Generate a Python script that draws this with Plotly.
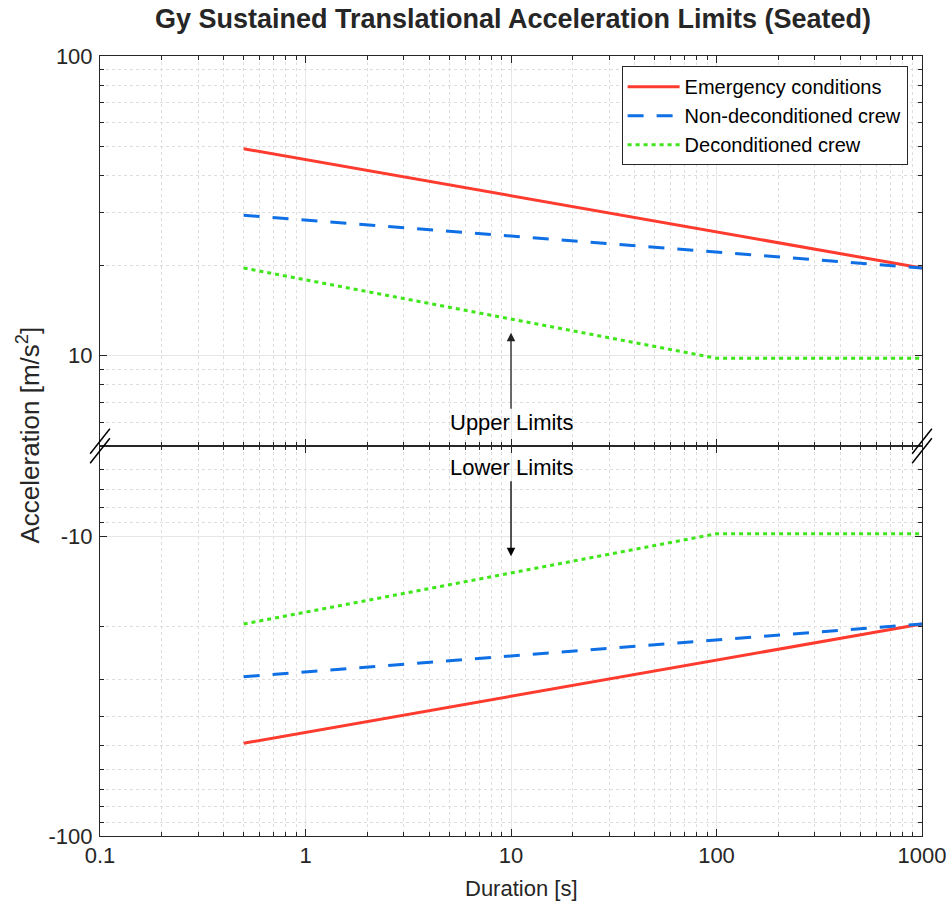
import plotly.graph_objects as go
from plotly.subplots import make_subplots

# ---------------- data ----------------
G = 9.81
emergency_dur = [0.5, 1000]
emergency_up = [5 * G, 2 * G]
nondecond_dur = [0.5, 1000]
nondecond_up = [3 * G, 2 * G]
decond_dur = [0.5, 100, 1000]
decond_up = [2 * G, 1 * G, 1 * G]

emergency_low = [-5 * G, -2 * G]
nondecond_low = [-3 * G, -2 * G]
decond_low = [-2 * G, -1 * G, -1 * G]

x_major = [0.1, 1, 10, 100, 1000]
x_major_text = ["0.1", "1", "10", "100", "1000"]
x_minor = [m * d for d in [0.1, 1, 10, 100] for m in range(2, 10)]
y_top_major = [10, 100]
y_top_text = ["10", "100"]
y_bot_major = [10, 100]
y_bot_text = ["-10", "-100"]
y_minor = [m * d for d in [1, 10] for m in range(2, 10)]

names = ["Emergency conditions", "Non-deconditioned crew", "Deconditioned crew"]
colors = ["#ff3b2f", "#0f70e6", "#3ee61a"]
dashes = ["solid", "16px,13px", "4px,4px"]

FONT = "Liberation Sans, Arial, sans-serif"
TXT = "#262626"

fig = make_subplots(rows=2, cols=1, shared_xaxes=False, vertical_spacing=0)

series_top = [(emergency_dur, emergency_up), (nondecond_dur, nondecond_up), (decond_dur, decond_up)]
series_bot = [(emergency_dur, emergency_low), (nondecond_dur, nondecond_low), (decond_dur, decond_low)]

for i, (xs, ys) in enumerate(series_top):
    fig.add_trace(go.Scatter(x=xs, y=ys, mode="lines", name=names[i],
                             line=dict(color=colors[i], width=3, dash=dashes[i]),
                             showlegend=True), row=1, col=1)
for i, (xs, ys) in enumerate(series_bot):
    fig.add_trace(go.Scatter(x=xs, y=[-v for v in ys], mode="lines", name=names[i],
                             line=dict(color=colors[i], width=3, dash=dashes[i]),
                             showlegend=False), row=2, col=1)

axis_common = dict(
    type="log", showline=True, linecolor="#262626", linewidth=1, mirror="ticks",
    ticks="inside", ticklen=7, tickcolor="#262626", automargin=False,
    showgrid=True, gridcolor="#e6e6e6", gridwidth=1, zeroline=False,
    tickfont=dict(family=FONT, size=22, color=TXT),
)
minor_common = dict(ticks="inside", ticklen=4, tickcolor="#262626",
                    showgrid=True, gridcolor="#dedede", griddash="dot", gridwidth=1)

for r in (1, 2):
    fig.update_xaxes(axis_common, range=[-1, 3], tickmode="array",
                     tickvals=x_major, ticktext=x_major_text,
                     showticklabels=(r == 2),
                     minor=dict(minor_common, tickmode="array", tickvals=x_minor),
                     row=r, col=1)

fig.update_yaxes(axis_common, range=[0.69897, 2], tickmode="array",
                 tickvals=y_top_major, ticktext=y_top_text, ticklabelstandoff=2,
                 minor=dict(minor_common, tickmode="array", tickvals=y_minor),
                 row=1, col=1)
fig.update_yaxes(axis_common, range=[2, 0.69897], tickmode="array",
                 tickvals=y_bot_major, ticktext=y_bot_text, ticklabelstandoff=2,
                 minor=dict(minor_common, tickmode="array", tickvals=y_minor),
                 row=2, col=1)

fig.update_layout(
    width=950, height=911,
    margin=dict(l=100, r=28, t=56, b=75),
    plot_bgcolor="white", paper_bgcolor="white",
    font=dict(family=FONT, color=TXT),
    title=dict(text="<b>Gy Sustained Translational Acceleration Limits (Seated)</b>",
               x=513 / 950, xanchor="center",
               y=1 - 19 / 911, yanchor="middle",
               font=dict(family=FONT, size=27, color=TXT)),
    legend=dict(x=0.9825, xanchor="right", y=0.987, yanchor="top",
                bgcolor="white", bordercolor="#262626", borderwidth=1,
                font=dict(family=FONT, size=20, color="#000000"),
                itemwidth=52, tracegroupgap=0),
)

fig.update_layout(
    xaxis=dict(domain=[0, 1]), xaxis2=dict(domain=[0, 1]),
    yaxis=dict(domain=[0.5, 1]), yaxis2=dict(domain=[0, 0.5]),
)

# axis titles
fig.add_annotation(text="Duration [s]", xref="paper", yref="paper", x=0.513, y=-0.049,
                   xanchor="center", yanchor="top", showarrow=False,
                   font=dict(family=FONT, size=22, color=TXT))
fig.add_annotation(text="Acceleration [m/s<sup>2</sup>]", xref="paper", yref="paper",
                   x=-0.087, y=0.514, xanchor="center", yanchor="middle", textangle=-90,
                   showarrow=False, font=dict(family=FONT, size=26, color=TXT))

# text labels with arrows
fig.add_annotation(text="Upper Limits", x=1, y=1.077, xref="x", yref="y", ax=0, ay=90,
                   showarrow=True, arrowhead=2, arrowsize=1.3, arrowwidth=1.3,
                   arrowcolor="#222", standoff=0,
                   font=dict(family=FONT, size=22, color="#000"))
fig.add_annotation(text="Lower Limits", x=1, y=1.067, xref="x2", yref="y2", ax=0, ay=-89,
                   showarrow=True, arrowhead=2, arrowsize=1.3, arrowwidth=1.3,
                   arrowcolor="#000", standoff=0,
                   font=dict(family=FONT, size=22, color="#000"))

# axis break marks
for xc in (0.0, 1.0):
    for dy in (-0.006, 0.006):
        fig.add_shape(type="line", xref="paper", yref="paper",
                      x0=xc - 0.012, x1=xc + 0.012, y0=0.5 + dy - 0.016, y1=0.5 + dy + 0.016,
                      line=dict(color="#000", width=1.5))

fig.write_html("out.html")
